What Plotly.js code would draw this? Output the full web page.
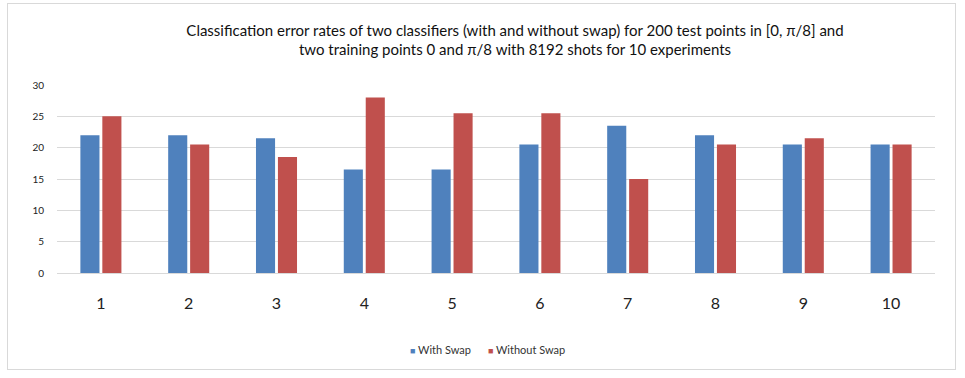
<!DOCTYPE html>
<html>
<head>
<meta charset="utf-8">
<script src="https://cdn.plot.ly/plotly-3.0.1.min.js"></script>
<style>
html,body{margin:0;padding:0;background:#fff;}
#frame{position:absolute;left:7px;top:3px;width:949px;height:367px;border:1.5px solid #d9d9d9;box-sizing:border-box;}
#chart{position:absolute;left:0;top:0;width:965px;height:378px;}
</style>
</head>
<body>
<div id="frame"></div>
<div id="chart"></div>
<script>
const categories = ["1","2","3","4","5","6","7","8","9","10"];
const withSwap = [22, 22, 21.5, 16.5, 16.5, 20.5, 23.5, 22, 20.5, 20.5];
const withoutSwap = [25, 20.5, 18.5, 28, 25.5, 25.5, 15, 20.5, 21.5, 20.5];
const seriesNames = ["With Swap", "Without Swap"];
const seriesColors = ["#4F81BD", "#C0504D"];
const titleText = "Classification error rates of two classifiers (with and without swap) for 200 test points in [0, π/8] and<br>two training points 0 and π/8 with 8192 shots for 10 experiments";

const data = [
  {type:"bar", x:categories, y:withSwap, name:seriesNames[0], marker:{color:seriesColors[0]}, showlegend:false},
  {type:"bar", x:categories, y:withoutSwap, name:seriesNames[1], marker:{color:seriesColors[1]}, showlegend:false}
];
const legendText = seriesNames.map((n,i)=>"<span style='color:"+seriesColors[i]+";font-size:9px'>■</span> "+n).join("      ");
const layout = {
  width:965, height:378,
  paper_bgcolor:"rgba(0,0,0,0)", plot_bgcolor:"rgba(0,0,0,0)",
  margin:{l:57, r:30, t:85, b:105},
  font:{family:"Lato, 'Open Sans', sans-serif", color:"#222"},
  title:{text:titleText, x:515/965, xref:"container", xanchor:"center", y:0.905, yref:"container", yanchor:"top",
         font:{size:15, family:"Lato, sans-serif", color:"#111"}},
  barmode:"group", bargap:0.5, bargroupgap:0.13,
  showlegend:false,
  annotations:[{text:legendText, xref:"paper", yref:"paper", x:(487-57)/878, y:-(349-273)/188, xanchor:"center", yanchor:"middle", showarrow:false, font:{size:11, color:"#333"}}],
  xaxis:{type:"category", showgrid:false, zeroline:false, showline:false, ticks:"", tickfont:{size:16, color:"#222"}, ticklabelstandoff:19},
  yaxis:{range:[0,30], dtick:5, showgrid:true, gridcolor:"#d9d9d9", gridwidth:1, zeroline:true, zerolinecolor:"#d9d9d9", zerolinewidth:1, showline:false, ticks:"", tickfont:{size:10, color:"#222"}, ticklabelstandoff:12}
};
Plotly.newPlot("chart", data, layout, {displayModeBar:false, staticPlot:true});
</script>
</body>
</html>
